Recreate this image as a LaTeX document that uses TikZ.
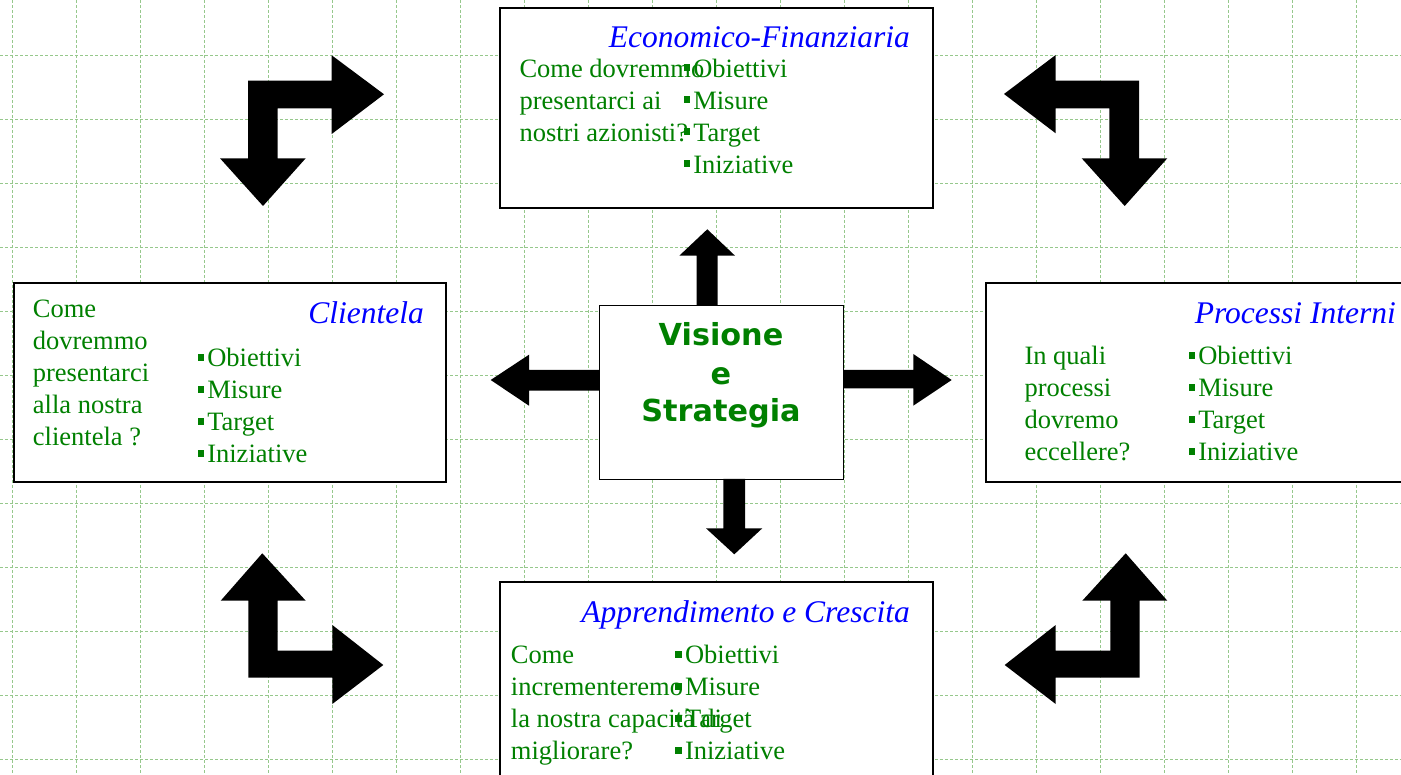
\documentclass[tikz,border=0pt]{standalone}
\usepackage{fontspec}
\setmainfont{Liberation Serif}
\newfontfamily\heavyfont{DejaVu Sans}[UprightFont={* Bold}]
\definecolor{tgreen}{RGB}{0,128,0}
\definecolor{tblue}{RGB}{0,0,255}
\definecolor{gridgreen}{RGB}{150,200,140}

% square bullet used in the lists
\newcommand{\bul}{\textcolor{tgreen}{\rule[5.8pt]{6.8pt}{7pt}}\hspace{3pt}}
% one text node per line, 32pt apart
\newcommand{\stack}[4]{%
  \foreach \ln [count=\i] in {#4}
    \node[bodytext] (#1-\i) at (#2,{#3+32*(\i-1)}) {\ln};}

\tikzset{
  panel/.style={draw=black, line width=2.2pt, fill=white, rectangle, inner sep=0pt, anchor=north west},
  core/.style={draw=black, line width=1.3pt, fill=white, rectangle, inner sep=0pt, anchor=north west},
  bodytext/.style={anchor=base west, inner sep=0pt, text=tgreen, font=\fontsize{26.5}{32}\selectfont},
  titletext/.style={anchor=base east, inner sep=0pt, text=tblue, font=\fontsize{31.5}{36}\selectfont\itshape},
  coretext/.style={anchor=base, inner sep=0pt, text=tgreen, font=\heavyfont\fontsize{30.3}{38}\selectfont},
  blockarrow/.style={fill=black, draw=none},
  gridline/.style={draw=gridgreen, line width=1.1pt, dash pattern=on 3pt off 2pt}
}

\begin{document}
\begin{tikzpicture}[x=1pt, y=-1pt]
\useasboundingbox (0,0) rectangle (1401,775);
\clip (0,0) rectangle (1401,775);
\fill[white] (0,0) rectangle (1401,775);

% background grid
\foreach \k in {0,...,21} \draw[gridline] ({12.7+64*\k},0) -- ({12.7+64*\k},775);
\foreach \k in {0,...,11} \draw[gridline] (0,{55.5+64*\k}) -- (1401,{55.5+64*\k});

% perspective panels
\node[panel, minimum width=433pt, minimum height=200pt] (eco) at (499,7) {};
\node[panel, minimum width=432pt, minimum height=199pt] (cli) at (13,282) {};
\node[panel, minimum width=440pt, minimum height=199pt] (pro) at (985,282) {};
\node[panel, minimum width=433pt, minimum height=220pt] (app) at (499,581) {};
\node[core, minimum width=244pt, minimum height=174pt] (vs) at (599,305) {};

% Economico-Finanziaria
\node[titletext] (eco-t) at (910,48) {Economico-Finanziaria};
\stack{eco-q}{519.3}{77.3}{Come dovremmo, presentarci ai, nostri azionisti?}
\stack{eco-b}{683.3}{77.3}{\bul Obiettivi, \bul Misure, \bul Target, \bul Iniziative}

% Clientela
\node[titletext] (cli-t) at (424,324) {Clientela};
\stack{cli-q}{32.7}{317.3}{Come, dovremmo, presentarci, alla nostra, clientela ?}
\stack{cli-b}{197.3}{366.7}{\bul Obiettivi, \bul Misure, \bul Target, \bul Iniziative}

% Processi Interni
\node[titletext] (pro-t) at (1396,323.3) {Processi Interni};
\stack{pro-q}{1024.3}{365}{In quali, processi, dovremo, eccellere?}
\stack{pro-b}{1188.3}{365}{\bul Obiettivi, \bul Misure, \bul Target, \bul Iniziative}

% Apprendimento e Crescita
\node[titletext] (app-t) at (910,622.7) {Apprendimento e Crescita};
\stack{app-q}{510.7}{663.3}{Come, incrementeremo, la nostra capacità di, migliorare?}
\stack{app-b}{675}{663.3}{\bul Obiettivi, \bul Misure, \bul Target, \bul Iniziative}

% centre
\node[coretext] (vs-1) at (721,346) {Visione};
\node[coretext] (vs-2) at (721,385) {e};
\node[coretext] (vs-3) at (721,422) {Strategia};

% block arrows leaving the centre
\fill[blockarrow] (696.7,305) -- (696.7,255.7) -- (679.3,255.7) -- (707.3,229.3)
  -- (735,255.7) -- (717.7,255.7) -- (717.7,305) -- cycle;
\fill[blockarrow] (723.3,479) -- (723.3,528.3) -- (706,528.3) -- (734.3,554.3)
  -- (762.3,528.3) -- (745,528.3) -- (745,479) -- cycle;
\fill[blockarrow] (843,370) -- (913.3,370) -- (913.3,354) -- (951.7,380)
  -- (913.3,405.7) -- (913.3,388.3) -- (843,388.3) -- cycle;
\fill[blockarrow] (599,370) -- (529,370) -- (529,354.7) -- (490.7,380)
  -- (529,405.7) -- (529,390.7) -- (599,390.7) -- cycle;

% bent arrows in the corners
\fill[blockarrow] (248,80.7) -- (331.7,80.7) -- (331.7,55.3) -- (384,94.3)
  -- (331.7,134) -- (331.7,108.3) -- (277.7,108.3) -- (277.7,158.3)
  -- (305.7,158.3) -- (263,206) -- (220,158.3) -- (248,158.3) -- cycle;
\fill[blockarrow] (1139,80.7) -- (1139,158.3) -- (1167.3,158.3) -- (1124.7,206)
  -- (1081.7,158.3) -- (1109.3,158.3) -- (1109.3,108.3) -- (1055.7,108.3)
  -- (1055.7,133.3) -- (1004,94) -- (1055.7,55) -- (1055.7,80.7) -- cycle;
\fill[blockarrow] (248.3,677.7) -- (248.3,600.7) -- (220.7,600.7) -- (262.3,553.3)
  -- (305.7,600.7) -- (277.7,600.7) -- (277.7,650.7) -- (332.3,650.7)
  -- (332.3,625) -- (383.3,665) -- (332.3,704) -- (332.3,677.7) -- cycle;
\fill[blockarrow] (1139.7,677.7) -- (1139.7,600.7) -- (1167.3,600.7) -- (1125.7,553.3)
  -- (1082.3,600.7) -- (1110.3,600.7) -- (1110.3,650.7) -- (1055.7,650.7)
  -- (1055.7,625) -- (1004.7,665) -- (1055.7,704) -- (1055.7,677.7) -- cycle;
\end{tikzpicture}
\end{document}
